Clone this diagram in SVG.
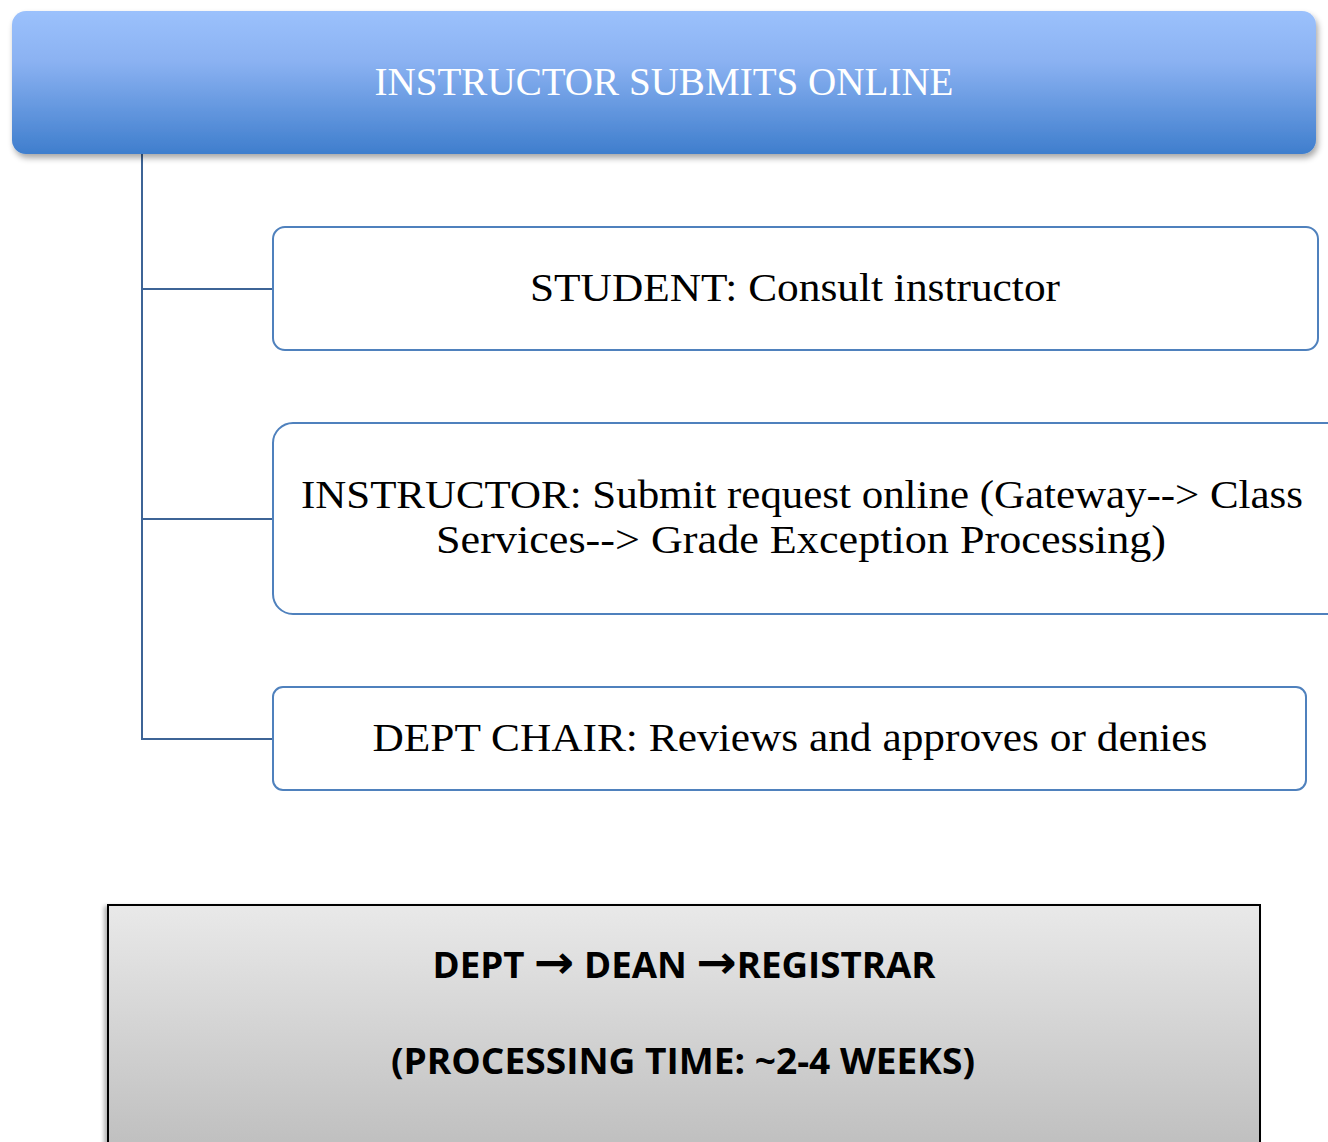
<svg xmlns="http://www.w3.org/2000/svg" width="1328" height="1142" viewBox="0 0 1328 1142">
<defs>
<linearGradient id="gBlue" x1="0" y1="0" x2="0" y2="1">
<stop offset="0" stop-color="#9bc1fc"/>
<stop offset="0.35" stop-color="#8bb2f2"/>
<stop offset="1" stop-color="#3f7ecd"/>
</linearGradient>
<linearGradient id="gGray" x1="0" y1="0" x2="0" y2="1">
<stop offset="0" stop-color="#e9e9e9"/>
<stop offset="1" stop-color="#bcbcbc"/>
</linearGradient>
<filter id="sh" x="-5%" y="-20%" width="110%" height="150%">
<feGaussianBlur in="SourceAlpha" stdDeviation="3"/>
<feOffset dx="2" dy="4" result="b"/>
<feComponentTransfer><feFuncA type="linear" slope="0.35"/></feComponentTransfer>
<feMerge><feMergeNode/><feMergeNode in="SourceGraphic"/></feMerge>
</filter>
<filter id="sh2" x="-5%" y="-5%" width="110%" height="120%">
<feGaussianBlur in="SourceAlpha" stdDeviation="2"/>
<feOffset dx="-3" dy="2" result="b"/>
<feComponentTransfer><feFuncA type="linear" slope="0.3"/></feComponentTransfer>
<feMerge><feMergeNode/><feMergeNode in="SourceGraphic"/></feMerge>
</filter>
</defs>
<style>
.box{fill:#ffffff;stroke:#4f81bd;stroke-width:2}
.conn{stroke:#3d6496;stroke-width:2;fill:none}
.serif{font-family:"Liberation Serif","DejaVu Serif",serif;fill:#000}
.bold{font-family:"Open Sans","Liberation Sans",sans-serif;font-weight:bold;fill:#000}
.arr{font-family:"DejaVu Sans",sans-serif;font-weight:bold;font-size:46px}
</style>
<rect width="1328" height="1142" fill="#ffffff"/>
<g id="connectors">
<path class="conn" d="M142,154 V739 H273 M142,289 H273 M142,519 H273"/>
</g>
<g id="top">
<rect x="12" y="11" width="1304" height="143" rx="14" fill="url(#gBlue)" filter="url(#sh)"/>
<text x="664" y="95" text-anchor="middle" class="serif" style="fill:#ffffff" font-size="40" textLength="579" lengthAdjust="spacingAndGlyphs">INSTRUCTOR SUBMITS ONLINE</text>
</g>
<g id="student">
<rect class="box" x="273" y="227" width="1045" height="123" rx="12"/>
<text x="795" y="301" text-anchor="middle" class="serif" font-size="40" textLength="530" lengthAdjust="spacingAndGlyphs">STUDENT: Consult instructor</text>
</g>
<g id="instructor">
<rect class="box" x="273" y="423" width="1075" height="191" rx="20"/>
<text x="802" y="508" text-anchor="middle" class="serif" font-size="40" textLength="1002" lengthAdjust="spacingAndGlyphs">INSTRUCTOR: Submit request online (Gateway--&gt; Class</text>
<text x="801" y="553" text-anchor="middle" class="serif" font-size="40" textLength="730" lengthAdjust="spacingAndGlyphs">Services--&gt; Grade Exception Processing)</text>
</g>
<g id="chair">
<rect class="box" x="273" y="687" width="1033" height="103" rx="10"/>
<text x="790" y="751" text-anchor="middle" class="serif" font-size="40" textLength="835" lengthAdjust="spacingAndGlyphs">DEPT CHAIR: Reviews and approves or denies</text>
</g>
<g id="process">
<rect x="108" y="905" width="1152" height="260" fill="url(#gGray)" stroke="#000" stroke-width="2" filter="url(#sh2)"/>
<text x="684" y="978" text-anchor="middle" class="bold" font-size="35" textLength="503" lengthAdjust="spacingAndGlyphs">DEPT <tspan class="arr">→</tspan> DEAN <tspan class="arr">→</tspan>REGISTRAR</text>
<text x="683" y="1074" text-anchor="middle" class="bold" font-size="35" textLength="584" lengthAdjust="spacingAndGlyphs">(PROCESSING TIME: ~2-4 WEEKS)</text>
</g>
</svg>
